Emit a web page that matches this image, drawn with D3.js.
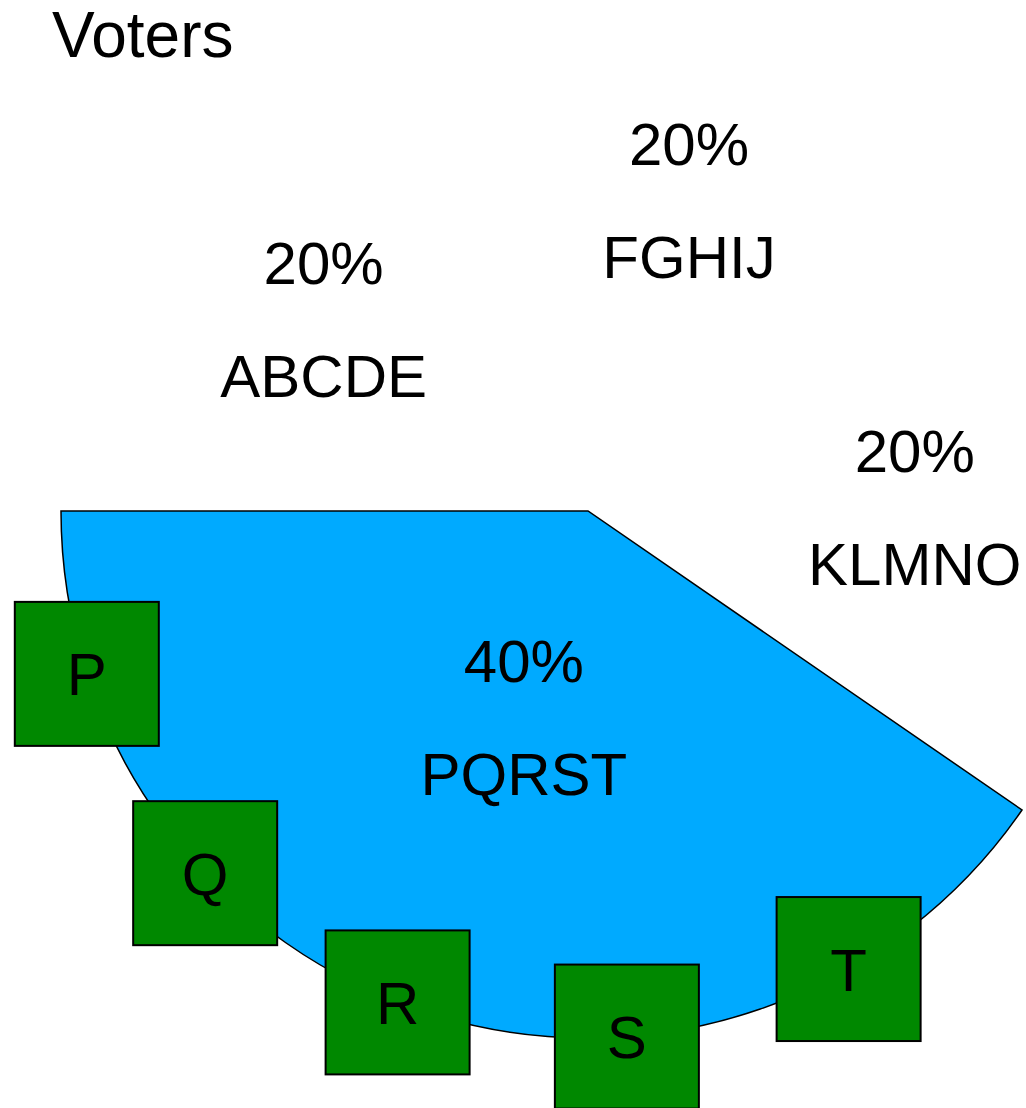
<!DOCTYPE html>
<html>
<head>
<meta charset="utf-8">
<script src="https://cdn.jsdelivr.net/npm/d3@7"></script>
<style>
  body { margin: 0; background: #fff; }
  text { font-family: "Liberation Sans", Arial, sans-serif; fill: #000; }
</style>
</head>
<body>
<svg id="chart" width="1026" height="1108"></svg>
<script>
// voting blocs and their shares
var groups = ["ABCDE", "FGHIJ", "KLMNO", "PQRST"];
var shares = [20, 20, 19.6, 40.4];
// individual voters shown for the highlighted bloc
var voters = ["P", "Q", "R", "S", "T"];
var highlighted = "PQRST";

var svg = d3.select("#chart");

var cx = 588, cy = 511, radius = 527;
var boxSize = 144;

var fill = d3.scaleOrdinal()
    .domain(groups)
    .range(["none", "none", "none", "#00aaff"]);

var pie = d3.pie()
    .sort(null)
    .startAngle(-Math.PI / 2)
    .endAngle(Math.PI * 1.5)
    .value(function(d) { return d.value; });

var data = groups.map(function(g, i) { return {name: g, value: shares[i]}; });
var slices = pie(data);
var total = d3.sum(shares);

var arc = d3.arc().innerRadius(0).outerRadius(radius);
var outerLabelArc = d3.arc().innerRadius(radius * 0.62).outerRadius(radius * 0.62);
var innerLabelArc = d3.arc().innerRadius(radius * 0.41).outerRadius(radius * 0.41);

svg.append("text")
    .attr("x", 52)
    .attr("y", 57)
    .attr("font-size", 64)
    .text("Voters");

var g = svg.append("g").attr("transform", "translate(" + cx + "," + cy + ")");

g.selectAll("path.slice")
    .data(slices)
    .enter().append("path")
    .attr("class", "slice")
    .attr("d", arc)
    .attr("fill", function(d) { return fill(d.data.name); })
    .attr("stroke", function(d) { return d.data.name === highlighted ? "#000" : "none"; })
    .attr("stroke-width", 1.5);

var labels = g.selectAll("g.label")
    .data(slices)
    .enter().append("g")
    .attr("class", "label")
    .attr("transform", function(d) {
        var c = (d.data.name === highlighted ? innerLabelArc : outerLabelArc).centroid(d);
        return "translate(" + c[0] + "," + c[1] + ")";
    });

labels.append("text")
    .attr("text-anchor", "middle")
    .attr("y", -35)
    .attr("font-size", 60)
    .text(function(d) { return d3.format(".0%")(d.value / total); });

labels.append("text")
    .attr("text-anchor", "middle")
    .attr("y", 78)
    .attr("font-size", 60)
    .text(function(d) { return d.data.name; });

// voters spread along the rim of their bloc
var bloc = slices.find(function(d) { return d.data.name === highlighted; });
var angle = d3.scalePoint()
    .domain(voters)
    .range([bloc.endAngle, bloc.startAngle])
    .padding(0.862)
    .align(0.589);

var voter = g.selectAll("g.voter")
    .data(voters)
    .enter().append("g")
    .attr("class", "voter")
    .attr("transform", function(d) {
        var a = angle(d);
        return "translate(" + (radius * Math.sin(a)) + "," + (-radius * Math.cos(a)) + ")";
    });

voter.append("rect")
    .attr("x", -boxSize / 2)
    .attr("y", -boxSize / 2)
    .attr("width", boxSize)
    .attr("height", boxSize)
    .attr("fill", "#008800")
    .attr("stroke", "#000")
    .attr("stroke-width", 2);

voter.append("text")
    .attr("text-anchor", "middle")
    .attr("dy", "0.36em")
    .attr("font-size", 60)
    .text(function(d) { return d; });
</script>
</body>
</html>
